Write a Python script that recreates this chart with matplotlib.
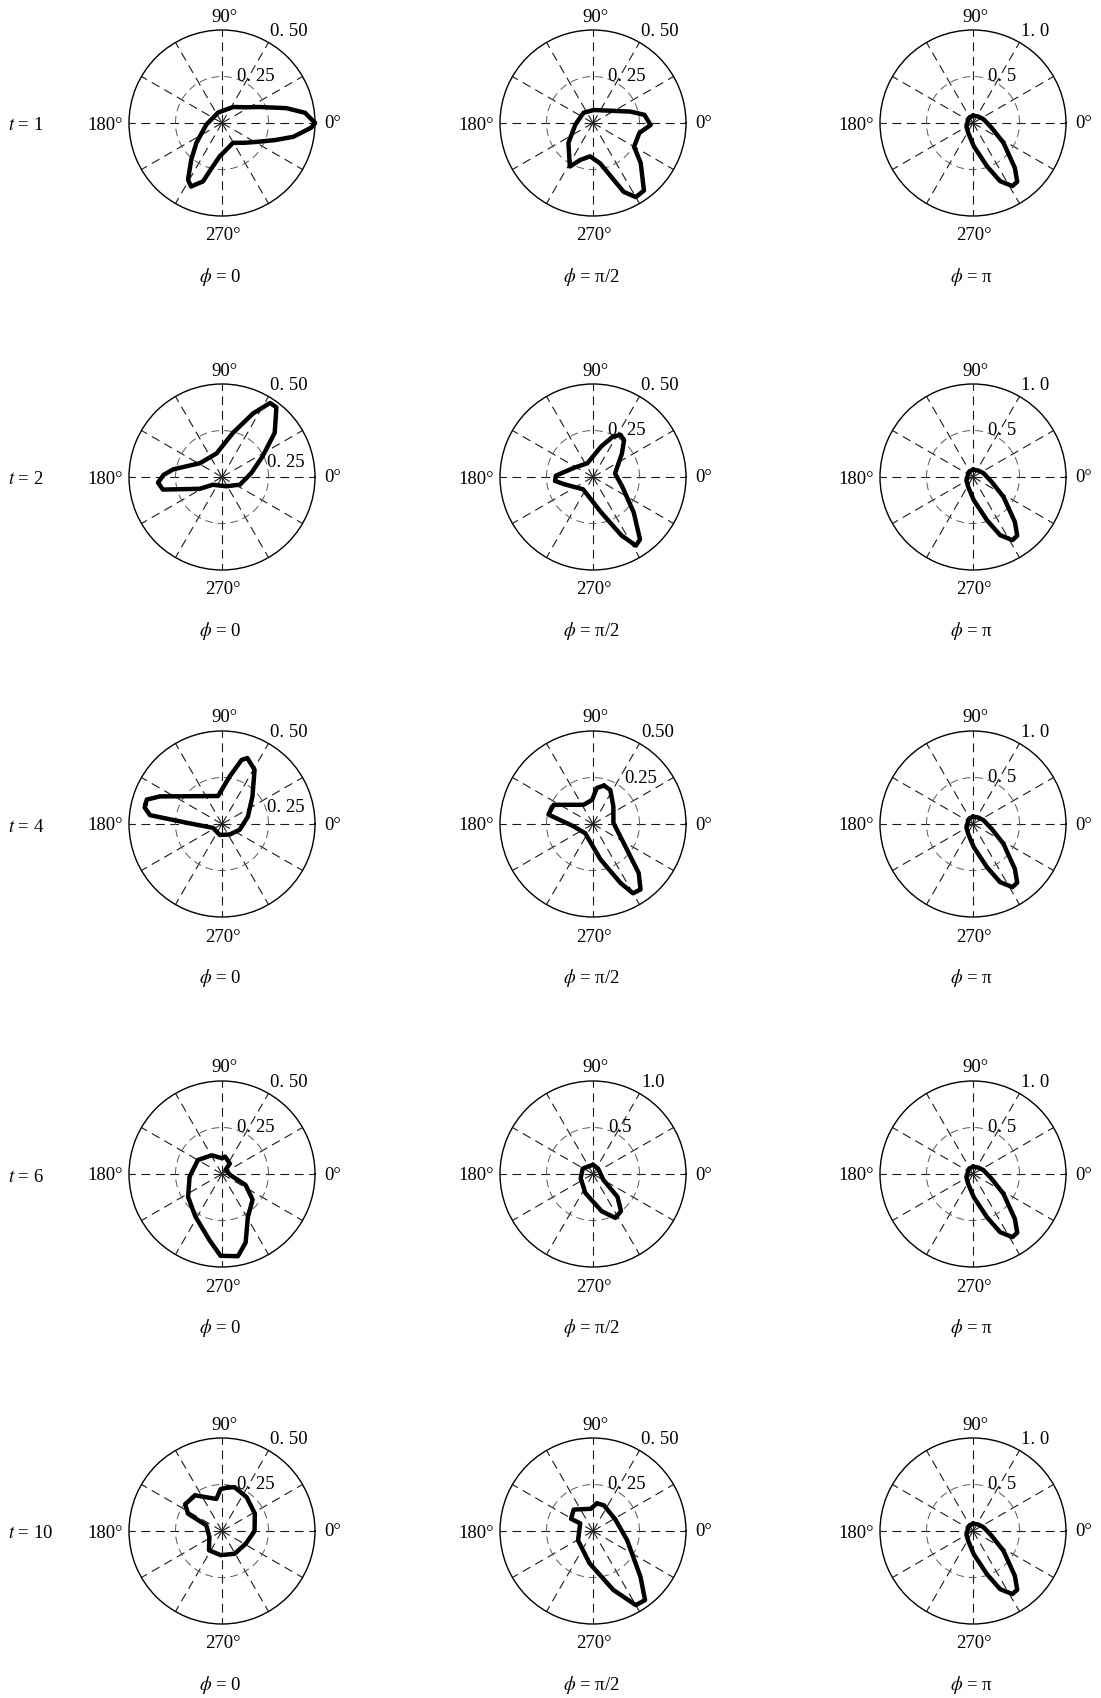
import matplotlib
matplotlib.use("Agg")
import matplotlib.pyplot as plt
import numpy as np

# ---------------------------------------
# Data (angles in degrees, radii in data units)
# ---------------------------------------

ROW_LABELS = ["1", "2", "4", "6", "10"]
COL_LABELS = ["0", "π/2", "π"]

# t = 1, phi = 0
T1_P0_ANG = [0, 7, 13, 23, 33, 55, 110, 186, 218, 230, 239, 244, 252, 257, 266, 299, 319, 331, 342, 349, 357]
T1_P0_R = [0.50, 0.45, 0.355, 0.22, 0.155, 0.105, 0.06, 0.085, 0.175, 0.257, 0.355, 0.38, 0.33, 0.25, 0.18, 0.122, 0.162, 0.21, 0.298, 0.39, 0.48]

# t = 1, phi = pi/2
T1_P1_ANG = [87, 17, 9, 358, 348, 330, 320, 307, 300, 294, 290, 280, 265, 251, 242, 219, 185, 133]
T1_P1_R = [0.07, 0.21, 0.28, 0.31, 0.255, 0.255, 0.335, 0.455, 0.46, 0.405, 0.325, 0.22, 0.18, 0.21, 0.265, 0.17, 0.095, 0.075]

# phi = pi, all rows (practically identical)
PI_ANG = [90, 50, 20, 345, 327, 313, 307, 302, 295, 288, 272, 245, 207, 131]
PI_R = [0.08, 0.09, 0.12, 0.21, 0.39, 0.66, 0.79, 0.80, 0.69, 0.49, 0.25, 0.12, 0.08, 0.07]

# t = 2, phi = 0
T2_P0_ANG = [185, 178, 171, 148, 103, 76, 64, 57, 52, 40, 27, 8, 337, 295, 220, 208, 192]
T2_P0_R = [0.345, 0.315, 0.265, 0.14, 0.13, 0.245, 0.38, 0.475, 0.475, 0.37, 0.245, 0.16, 0.105, 0.055, 0.065, 0.135, 0.325]

# t = 2, phi = pi/2
T2_P1_ANG = [57, 50, 39, 9, 342, 319, 307, 302, 296, 283, 231, 194, 186, 178, 155, 112, 75, 64]
T2_P1_R = [0.27, 0.26, 0.20, 0.12, 0.165, 0.29, 0.42, 0.435, 0.35, 0.195, 0.085, 0.16, 0.205, 0.20, 0.115, 0.08, 0.17, 0.24]

# t = 4, phi = 0
T4_P0_ANG = [166, 162, 156, 128, 98, 81, 73, 69, 59, 42, 16, 342, 306, 258, 204, 178, 173, 168]
T4_P0_R = [0.425, 0.425, 0.365, 0.19, 0.152, 0.257, 0.36, 0.38, 0.34, 0.22, 0.145, 0.10, 0.07, 0.06, 0.052, 0.19, 0.39, 0.425]

# t = 4, phi = pi/2
T4_P1_ANG = [74, 63, 41, 3, 328, 313, 306, 300, 295, 282, 230, 187, 168, 154, 116, 92, 84]
T4_P1_R = [0.215, 0.205, 0.145, 0.11, 0.195, 0.36, 0.435, 0.43, 0.35, 0.195, 0.065, 0.105, 0.245, 0.235, 0.115, 0.13, 0.195]

# t = 6, phi = 0
T6_P0_ANG = [90, 119, 150, 185, 214, 238, 259, 269, 281, 289, 301, 320, 335, 353, 50, 53, 80]
T6_P0_R = [0.085, 0.115, 0.15, 0.175, 0.22, 0.27, 0.36, 0.44, 0.45, 0.39, 0.27, 0.215, 0.14, 0.045, 0.03, 0.07, 0.095]

# t = 6, phi = pi/2
T6_P1_ANG = [90, 152, 199, 248, 283, 297, 307, 317, 330, 47]
T6_P1_R = [0.10, 0.125, 0.14, 0.22, 0.41, 0.53, 0.50, 0.36, 0.13, 0.08]

# t = 10, phi = 0
T10_P0_ANG = [83, 92, 100, 127, 144, 153, 160, 205, 236, 267, 299, 332, 0, 28, 54, 74]
T10_P0_R = [0.235, 0.225, 0.175, 0.24, 0.245, 0.205, 0.09, 0.075, 0.125, 0.13, 0.14, 0.145, 0.175, 0.20, 0.225, 0.245]

# t = 10, phi = pi/2
T10_P1_ANG = [82, 96, 132, 151, 149, 212, 264, 289, 300, 307, 316, 345, 28, 67]
T10_P1_R = [0.15, 0.12, 0.155, 0.135, 0.08, 0.095, 0.175, 0.335, 0.46, 0.465, 0.355, 0.19, 0.135, 0.15]

CURVES = [
    [(T1_P0_ANG, T1_P0_R), (T1_P1_ANG, T1_P1_R), (PI_ANG, PI_R)],
    [(T2_P0_ANG, T2_P0_R), (T2_P1_ANG, T2_P1_R), (PI_ANG, PI_R)],
    [(T4_P0_ANG, T4_P0_R), (T4_P1_ANG, T4_P1_R), (PI_ANG, PI_R)],
    [(T6_P0_ANG, T6_P0_R), (T6_P1_ANG, T6_P1_R), (PI_ANG, PI_R)],
    [(T10_P0_ANG, T10_P0_R), (T10_P1_ANG, T10_P1_R), (PI_ANG, PI_R)],
]

RMAX = [
    [0.5, 0.5, 1.0],
    [0.5, 0.5, 1.0],
    [0.5, 0.5, 1.0],
    [0.5, 1.0, 1.0],
    [0.5, 0.5, 1.0],
]

# radial tick texts (outer, inner)
RLABELS = [
    [("0. 50", "0. 25"), ("0. 50", "0. 25"), ("1. 0", "0. 5")],
    [("0. 50", "0. 25"), ("0. 50", "0. 25"), ("1. 0", "0. 5")],
    [("0. 50", "0. 25"), ("0.50", "0.25"), ("1. 0", "0. 5")],
    [("0. 50", "0. 25"), ("1.0", "0.5"), ("1. 0", "0. 5")],
    [("0. 50", "0. 25"), ("0. 50", "0. 25"), ("1. 0", "0. 5")],
]

# ---------------------------------------
# Layout (pixels)
# ---------------------------------------
W, H = 1101, 1698
COL_X = [222, 593, 973]
ROW_Y = [123, 477, 824, 1174, 1531]
R = 93

# where the inner radial label sits, offsets in units of R (left edge, v-center)
INNER_POS = {
    (1, 0): (0.48, 0.16),
    (2, 0): (0.48, 0.18),
    (2, 1): (0.34, 0.49),
}

plt.rcParams.update({
    "font.family": ["Liberation Serif", "DejaVu Serif"],
    "mathtext.fontset": "stix",
    "font.size": 13,
})

FS = 13.5
DASH = (0, (8, 5))


def ftext(fig, x, y, s, **kw):
    fig.text(x / W, 1 - y / H, s, fontsize=FS, va="center", **kw)


fig = plt.figure(figsize=(W / 100, H / 100), dpi=100)

for i, cy in enumerate(ROW_Y):
    ftext(fig, 8, cy + 3, "$t$ = " + ROW_LABELS[i], ha="left")
    for j, cx in enumerate(COL_X):
        rmax = RMAX[i][j]
        ax = fig.add_axes([(cx - R) / W, 1 - (cy + R) / H, 2 * R / W, 2 * R / H],
                          projection="polar")
        ax.set_ylim(0, rmax)
        ax.set_thetagrids(range(0, 360, 30), labels=[""] * 12)
        ax.set_rgrids([rmax / 2], labels=[""])
        ax.xaxis.grid(True, color="0.1", linewidth=0.8, linestyle=DASH)
        ax.yaxis.grid(True, color="0.35", linewidth=0.7, linestyle=DASH)
        ax.spines["polar"].set_linewidth(1.0)
        ax.spines["polar"].set_color("black")
        ax.tick_params(length=0)

        ang, rad = CURVES[i][j]
        th = np.deg2rad(np.r_[ang, ang[0]])
        rr = np.r_[rad, rad[0]]
        ax.plot(th, rr, color="black", linewidth=3.2, solid_joinstyle="round",
                solid_capstyle="round", clip_on=False)

        # angle labels
        ftext(fig, cx + 2, cy - R - 13, "90°", ha="center")
        ftext(fig, cx + 1, cy + R + 20, "270°", ha="center")
        ftext(fig, cx - R - 6, cy + 2, "180°", ha="right")
        ftext(fig, cx + R + 9, cy + 1, "0°", ha="left")

        # radial labels
        outer, inner = RLABELS[i][j]
        ftext(fig, cx + 0.52 * R, cy - 0.98 * R, outer, ha="left")
        ix, iy = INNER_POS.get((i, j), (0.16, 0.50))
        ftext(fig, cx + ix * R, cy - iy * R, inner, ha="left")

        # column label
        ftext(fig, cx - 2, cy + 154, "$\\phi$ = " + COL_LABELS[j], ha="center")

fig.savefig("out.png", dpi=100, facecolor="white")
